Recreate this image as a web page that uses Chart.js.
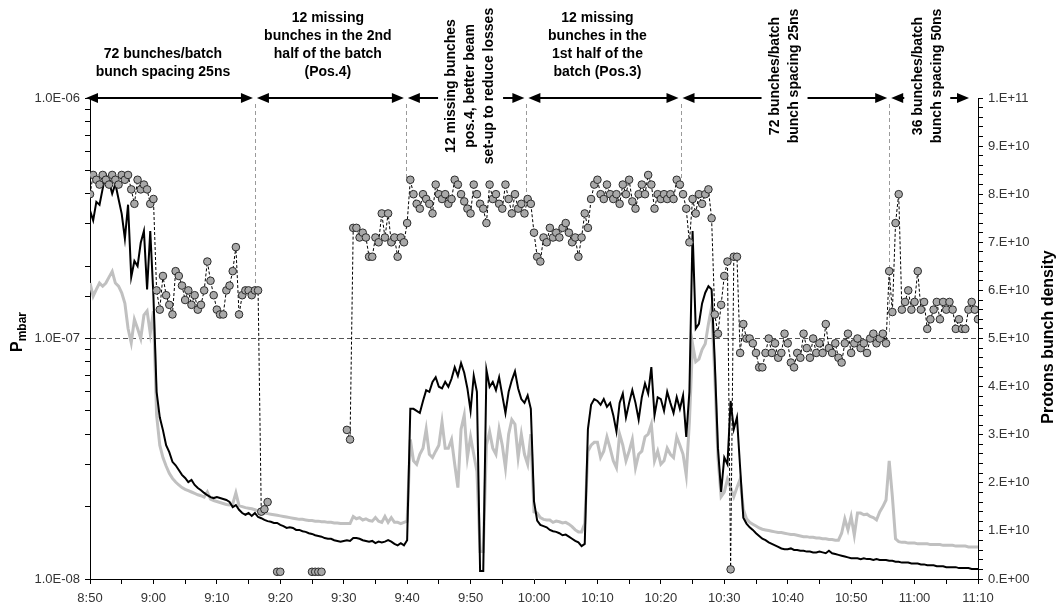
<!DOCTYPE html>
<html>
<head>
<meta charset="utf-8">
<title>Pressure and protons bunch density</title>
<script src="https://cdn.jsdelivr.net/npm/chart.js@4.4.1/dist/chart.umd.min.js"></script>
<style>
  html, body { margin: 0; padding: 0; background: #fff; }
  #wrap { width: 1056px; height: 608px; position: relative; }
</style>
</head>
<body>
<div id="wrap"><canvas id="pressureChart"></canvas></div>
<script>
// All series are sampled every half minute, starting at 8:50 (x = minutes after 8:50)
const sampleStep = 0.5;

// Pressure, black gauge, in units of 1e-8 mbar (one row = 10 minutes)
const pressureBlack = [
  34, 31, 37, 36, 42, 48, 45, 40, 44, 38, 33, 26, 36, 18, 21, 20, 25, 28, 16, 28,
  15, 6.0, 4.7, 4.16, 3.6, 3.37, 3.07, 2.97, 2.84, 2.71, 2.63, 2.53, 2.58, 2.46, 2.39, 2.34, 2.28, 2.23, 2.19, 2.17,
  2.19, 2.17, 2.15, 2.13, 2.09, 1.99, 2.03, 1.94, 1.88, 1.85, 1.88, 1.83, 1.88, 1.81, 1.79, 1.76, 1.74, 1.73, 1.71, 1.71,
  1.68, 1.66, 1.63, 1.64, 1.63, 1.60, 1.60, 1.58, 1.57, 1.55, 1.54, 1.52, 1.51, 1.50, 1.48, 1.47, 1.47, 1.45, 1.44, 1.43,
  1.44, 1.45, 1.44, 1.48, 1.48, 1.47, 1.45, 1.44, 1.43, 1.44, 1.41, 1.43, 1.42, 1.43, 1.45, 1.43, 1.40, 1.38, 1.41, 1.38,
  1.45, 5.1, 5.1, 5.0, 4.9, 5.5, 6.1, 6.0, 6.6, 6.9, 6.3, 6.2, 6.6, 6.3, 6.8, 7.6, 7.0, 7.9, 7.2, 6.2,
  5.0, 7.0, 6.0, 1.08, 1.08, 7.4, 6.3, 6.6, 6.1, 6.9, 5.8, 4.9, 6.0, 6.7, 7.3, 6.2, 5.6, 5.4, 5.8, 5.1,
  2.1, 1.75, 1.68, 1.66, 1.64, 1.60, 1.58, 1.57, 1.55, 1.52, 1.53, 1.50, 1.47, 1.44, 1.42, 1.37, 1.40, 4.2, 5.3, 5.6,
  5.5, 5.3, 5.6, 5.2, 5.4, 4.8, 4.1, 5.4, 5.9, 4.7, 5.4, 6.1, 5.4, 4.6, 5.7, 6.5, 5.9, 7.6, 4.8, 5.7,
  5.6, 5.0, 6.0, 5.4, 4.9, 5.7, 5.1, 5.8, 3.9, 6.0, 28, 11, 11.5, 14, 15.5, 16.5, 16, 8, 3.5, 2.3,
  3.2, 3.0, 5.5, 4.2, 4.7, 2.9, 1.80, 1.70, 1.64, 1.60, 1.55, 1.51, 1.47, 1.45, 1.42, 1.40, 1.38, 1.36, 1.34, 1.33,
  1.33, 1.34, 1.32, 1.32, 1.31, 1.31, 1.30, 1.30, 1.29, 1.29, 1.30, 1.29, 1.28, 1.31, 1.28, 1.27, 1.26, 1.25, 1.24, 1.23,
  1.22, 1.22, 1.22, 1.21, 1.22, 1.21, 1.21, 1.20, 1.21, 1.20, 1.20, 1.20, 1.19, 1.19, 1.18, 1.18, 1.17, 1.17, 1.17, 1.16,
  1.16, 1.16, 1.15, 1.15, 1.14, 1.14, 1.14, 1.13, 1.13, 1.13, 1.12, 1.12, 1.12, 1.12, 1.11, 1.11, 1.11, 1.11, 1.10, 1.10,
  1.10
];

// Pressure, grey gauge, in units of 1e-8 mbar
const pressureGrey = [
  17, 15, 16, 17, 16.5, 17, 18, 19, 17, 16.5, 15.5, 14, 11, 9.6, 12, 11, 10, 12.5, 13, 10.5,
  13, 4.8, 3.6, 3.2, 2.95, 2.75, 2.62, 2.53, 2.46, 2.40, 2.36, 2.33, 2.30, 2.27, 2.24, 2.22, 2.19, 2.3, 2.15, 2.12,
  2.10, 2.08, 2.06, 2.04, 2.03, 2.05, 2.28, 2.02, 2.00, 1.98, 1.97, 1.96, 1.94, 1.92, 1.90, 1.88, 1.87, 1.86, 1.85, 1.84,
  1.83, 1.82, 1.81, 1.80, 1.79, 1.78, 1.77, 1.77, 1.76, 1.75, 1.75, 1.74, 1.74, 1.73, 1.73, 1.72, 1.72, 1.71, 1.71, 1.70,
  1.70, 1.70, 1.70, 1.82, 1.78, 1.80, 1.76, 1.78, 1.75, 1.74, 1.80, 1.74, 1.72, 1.82, 1.72, 1.80, 1.72, 1.72, 1.70, 1.72,
  1.74, 3.8, 3.1, 3.0, 3.3, 3.5, 4.2, 3.3, 3.2, 3.4, 3.6, 4.5, 3.5, 3.5, 3.8, 3.0, 2.4, 4.2, 4.8, 3.2,
  3.9, 3.3, 2.8, 1.3, 1.3, 3.6, 4.1, 3.5, 3.3, 4.2, 3.6, 2.9, 4.0, 4.6, 4.4, 3.2, 4.0, 3.3, 3.0, 4.0,
  1.9, 1.88, 1.80, 1.77, 1.76, 1.76, 1.72, 1.74, 1.73, 1.71, 1.72, 1.69, 1.65, 1.60, 1.57, 1.57, 1.70, 3.4, 3.6, 3.7,
  3.7, 3.2, 3.4, 3.9, 3.5, 3.1, 2.9, 4.0, 3.6, 3.1, 3.4, 3.8, 2.9, 3.3, 3.4, 3.9, 4.0, 4.4, 3.1, 3.4,
  3.0, 3.1, 3.5, 3.3, 3.2, 3.9, 3.6, 3.3, 2.7, 4.5, 9.5, 8.0, 8.2, 9.0, 9.5, 11.5, 13.5, 7.0, 3.2, 2.2,
  2.3, 2.6, 2.4, 2.2, 2.4, 2.6, 1.95, 1.78, 1.72, 1.69, 1.66, 1.63, 1.61, 1.60, 1.59, 1.58, 1.57, 1.56, 1.56, 1.55,
  1.54, 1.53, 1.53, 1.52, 1.51, 1.50, 1.50, 1.49, 1.49, 1.48, 1.48, 1.47, 1.47, 1.46, 1.46, 1.45, 1.45, 1.55, 1.78, 1.60,
  1.82, 1.52, 1.88, 1.88, 1.85, 1.86, 1.82, 1.80, 1.76, 1.90, 2.00, 2.13, 3.1, 2.2, 1.47, 1.43, 1.42, 1.42, 1.41, 1.41,
  1.41, 1.40, 1.40, 1.40, 1.40, 1.39, 1.39, 1.39, 1.39, 1.38, 1.38, 1.38, 1.38, 1.37, 1.37, 1.37, 1.37, 1.36, 1.36, 1.36,
  1.36
];

// Protons bunch density in units of 1e10 (null = no beam recorded)
const bunchDensity = [
  8.0, 8.4, 8.3, 8.2, 8.4, 8.3, 8.2, 8.4, 8.3, 8.2, 8.4, 8.3, 8.4, 8.1, 7.8, 8.3, 8.1, 8.2, 8.1, 7.8,
  7.9, 6.0, 5.6, 6.3, 5.9, 5.7, 5.5, 6.4, 6.3, 6.1, 5.8, 6.0, 5.7, 5.9, 5.6, 5.7, 6.0, 6.6, 6.2, 5.9,
  5.6, 5.5, 5.5, 6.0, 6.1, 6.4, 6.9, 5.5, 5.9, 6.0, 6.0, 5.9, 6.0, 6.0, 1.4, 1.45, 1.6, null, null, 0.15,
  0.15, null, null, null, null, null, null, null, null, null, 0.15, 0.15, 0.15, 0.15, null, null, null, null, null, null,
  null, 3.1, 2.9, 7.3, 7.3, 7.1, 7.2, 7.1, 6.7, 6.7, 7.1, 7.0, 7.6, 7.1, 7.6, 7.0, 7.1, 6.7, 7.1, 7.0,
  7.4, 8.3, 8.0, 7.8, 7.7, 8.0, 7.9, 7.8, 7.6, 8.2, 8.0, 7.9, 8.0, 7.8, 7.9, 8.3, 8.2, 8.0, 7.85, 7.7,
  7.6, 8.2, 8.0, 7.8, 7.7, 7.4, 8.2, 7.9, 8.0, 7.8, 7.7, 8.2, 7.9, 7.6, 8.0, 7.7, 7.8, 7.6, 7.9, 7.8,
  7.2, 6.7, 6.6, 7.1, 7.0, 7.3, 7.1, 7.2, 7.1, 7.3, 7.4, 7.2, 7.0, 7.1, 6.7, 7.1, 7.6, 7.3, 7.9, 8.2,
  8.3, 8.0, 7.9, 8.2, 8.0, 7.9, 8.0, 7.8, 8.2, 8.0, 8.3, 7.85, 7.7, 8.0, 8.2, 8.0, 8.4, 8.2, 7.7, 8.0,
  7.9, 8.0, 7.9, 8.0, 7.9, 8.3, 8.2, 8.0, 7.7, 7.0, 7.9, 7.6, 8.0, 7.8, 8.0, 8.1, 7.5, 5.5, 5.1, 5.7,
  6.3, 6.6, 0.2, 6.7, 6.7, 4.7, 5.3, 5.0, 5.0, 4.9, 4.7, 4.4, 4.4, 4.7, 5.0, 4.7, 4.9, 4.6, 4.7, 5.1,
  4.9, 4.5, 4.4, 4.7, 4.6, 5.1, 4.8, 4.6, 5.0, 4.7, 4.9, 4.7, 5.3, 4.8, 4.7, 4.9, 4.6, 4.5, 4.9, 5.1,
  4.7, 4.9, 5.0, 4.8, 4.9, 4.7, 5.0, 5.1, 4.9, 5.0, 5.1, 4.9, 6.4, 5.55, 7.4, 8.0, 5.6, 5.76, 6.0, 5.6,
  5.76, 6.4, 5.6, 5.76, 5.2, 5.4, 5.6, 5.76, 5.4, 5.76, 5.6, 5.76, 5.6, 5.2, 5.4, 5.2, 5.2, 5.6, 5.76, 5.6,
  5.4
];

// Tick labels
const timeLabels = ['8:50', '9:00', '9:10', '9:20', '9:30', '9:40', '9:50', '10:00',
  '10:10', '10:20', '10:30', '10:40', '10:50', '11:00', '11:10'];
const pressureTickLabels = { 1: '1.0E-08', 10: '1.0E-07', 100: '1.0E-06' };
const densityTickLabels = ['0.E+00', '1.E+10', '2.E+10', '3.E+10', '4.E+10', '5.E+10',
  '6.E+10', '7.E+10', '8.E+10', '9.E+10', '1.E+11'];

// Run periods: boundaries (minutes after 8:50) and the density where each divider stops
const dividerTimes = [26.0, 49.8, 68.8, 93.1, 126.0];
const dividerEnds = [6.0, 8.3, 7.8, 8.3, 5.1];
const lastArrowTime = 138.9;
const periodTexts = [
  ['72 bunches/batch', 'bunch spacing 25ns'],
  ['12 missing', 'bunches in the 2nd', 'half of the batch', '(Pos.4)'],
  ['12 missing bunches', 'pos.4, better beam', 'set-up to reduce losses'],
  ['12 missing', 'bunches in the', '1st half of the', 'batch (Pos.3)'],
  ['72 bunches/batch', 'bunch spacing 25ns'],
  ['36 bunches/batch', 'bunch spacing 50ns']
];
const periodVertical = [false, false, true, false, true, true];
const periodCentres = [11.5, 37.5, 60, 80, 109.5, 132];

const FONT = '"Liberation Sans", Arial, sans-serif';
Chart.defaults.font.family = FONT;

function toPoints(values) {
  return values.map((v, i) => ({ x: i * sampleStep, y: v }));
}

function arrowHead(ctx, tipX, y, dir) {
  ctx.beginPath();
  ctx.moveTo(tipX, y);
  ctx.lineTo(tipX + dir * 12, y - 5);
  ctx.lineTo(tipX + dir * 12, y + 5);
  ctx.closePath();
  ctx.fill();
}

// Period arrows, labels, dividers and the two axis titles
const annotations = {
  id: 'annotations',
  beforeDatasetsDraw(chart) {
    const { ctx, chartArea, scales } = chart;
    ctx.save();
    ctx.strokeStyle = '#9a9a9a';
    ctx.lineWidth = 1;
    ctx.setLineDash([4, 3]);
    dividerTimes.forEach((t, i) => {
      const px = Math.round(scales.x.getPixelForValue(t)) + 0.5;
      ctx.beginPath();
      ctx.moveTo(px, chartArea.top + 6);
      ctx.lineTo(px, scales.yDensity.getPixelForValue(dividerEnds[i]));
      ctx.stroke();
    });
    ctx.restore();
  },
  afterDraw(chart) {
    const { ctx, chartArea, scales } = chart;
    const x = scales.x;
    const y = chartArea.top;
    const bounds = [0, ...dividerTimes, lastArrowTime];

    ctx.save();
    ctx.strokeStyle = '#000';
    ctx.fillStyle = '#000';
    ctx.lineWidth = 2;
    ctx.font = 'bold 14px ' + FONT;
    ctx.textAlign = 'center';
    ctx.textBaseline = 'middle';

    for (let i = 0; i < bounds.length - 1; i++) {
      const left = x.getPixelForValue(bounds[i]) + (i === 0 ? -4 : 2);
      const right = x.getPixelForValue(bounds[i + 1]) - 2;
      const lines = periodTexts[i];
      const centre = x.getPixelForValue(periodCentres[i]);

      ctx.beginPath();
      if (periodVertical[i]) {
        const half = lines.length * 19 / 2 + 4;
        ctx.moveTo(left + 10, y);
        ctx.lineTo(centre - half, y);
        ctx.moveTo(centre + half, y);
        ctx.lineTo(right - 10, y);
      } else {
        ctx.moveTo(left + 10, y);
        ctx.lineTo(right - 10, y);
      }
      ctx.stroke();
      arrowHead(ctx, left, y, 1);
      arrowHead(ctx, right, y, -1);

      if (periodVertical[i]) {
        const cy = lines.length === 3 ? y - 12 : y - 22;
        lines.forEach((text, j) => {
          ctx.save();
          ctx.translate(centre + (j - (lines.length - 1) / 2) * 19, cy);
          ctx.rotate(-Math.PI / 2);
          ctx.fillText(text, 0, 0);
          ctx.restore();
        });
      } else {
        lines.forEach((text, j) => {
          ctx.fillText(text, centre, y - 26 - (lines.length - 1 - j) * 18);
        });
      }
    }

    // Left title: P with subscript mbar
    ctx.save();
    ctx.translate(22, 352);
    ctx.rotate(-Math.PI / 2);
    ctx.textAlign = 'left';
    ctx.textBaseline = 'alphabetic';
    ctx.font = 'bold 16px ' + FONT;
    ctx.fillText('P', 0, 0);
    const pWidth = ctx.measureText('P').width;
    ctx.font = 'bold 12px ' + FONT;
    ctx.fillText('mbar', pWidth, 4);
    ctx.restore();

    // Right title
    ctx.save();
    ctx.translate(1053, 337);
    ctx.rotate(-Math.PI / 2);
    ctx.textAlign = 'center';
    ctx.textBaseline = 'alphabetic';
    ctx.font = 'bold 16px ' + FONT;
    ctx.fillText('Protons bunch density', 0, 0);
    ctx.restore();

    ctx.restore();
  }
};

const tickFont = { family: FONT, size: 13 };

new Chart(document.getElementById('pressureChart'), {
  type: 'line',
  data: {
    datasets: [
      {
        label: 'Protons bunch density',
        data: toPoints(bunchDensity),
        yAxisID: 'yDensity',
        order: 0,
        borderColor: '#000',
        borderWidth: 1,
        borderDash: [3, 2],
        pointRadius: 3.8,
        pointBackgroundColor: '#a8a8a8',
        pointBorderColor: '#2b2b2b',
        pointBorderWidth: 1,
        spanGaps: false
      },
      {
        label: 'Pressure (black gauge)',
        data: toPoints(pressureBlack),
        yAxisID: 'yPressure',
        order: 1,
        borderColor: '#000',
        borderWidth: 2,
        pointRadius: 0
      },
      {
        label: 'Pressure (grey gauge)',
        data: toPoints(pressureGrey),
        yAxisID: 'yPressure',
        order: 2,
        borderColor: '#c0c0c0',
        borderWidth: 3,
        pointRadius: 0
      }
    ]
  },
  options: {
    responsive: true,
    maintainAspectRatio: false,
    animation: false,
    layout: { padding: { top: 98, left: 0, right: 0, bottom: 0 } },
    plugins: {
      legend: { display: false },
      tooltip: { enabled: false }
    },
    scales: {
      x: {
        type: 'linear',
        min: 0,
        max: 140,
        afterFit: function(scale) { scale.height = 29; },
        ticks: {
          stepSize: 5,
          autoSkip: false,
          maxRotation: 0,
          padding: 7,
          font: tickFont,
          color: '#333',
          callback: function(value) {
            return value % 10 === 0 ? timeLabels[value / 10] : '';
          }
        },
        grid: { drawOnChartArea: false, tickLength: 5, tickColor: '#000' },
        border: { color: '#000', width: 1 }
      },
      yPressure: {
        type: 'logarithmic',
        position: 'left',
        min: 1,
        max: 100,
        afterFit: function(scale) { scale.width = 90; },
        ticks: {
          autoSkip: false,
          padding: 5,
          font: tickFont,
          color: '#333',
          callback: function(value) {
            return pressureTickLabels[value] || '';
          }
        },
        grid: {
          drawOnChartArea: true,
          color: function(c) {
            return (c.tick && Math.abs(c.tick.value - 10) < 1e-9) ? '#555' : 'rgba(0,0,0,0)';
          },
          tickColor: '#000',
          tickLength: 5
        },
        border: { color: '#000', width: 1, dash: [5, 3] }
      },
      yDensity: {
        type: 'linear',
        position: 'right',
        min: 0,
        max: 10,
        afterFit: function(scale) { scale.width = 78; },
        ticks: {
          stepSize: 0.2,
          autoSkip: false,
          padding: 5,
          font: tickFont,
          color: '#333',
          callback: function(value) {
            const r = Math.round(value);
            return Math.abs(value - r) < 1e-6 ? densityTickLabels[r] : '';
          }
        },
        grid: { drawOnChartArea: false, tickLength: 5, tickColor: '#000' },
        border: { color: '#000', width: 1 }
      }
    }
  },
  plugins: [annotations]
});
</script>
</body>
</html>
